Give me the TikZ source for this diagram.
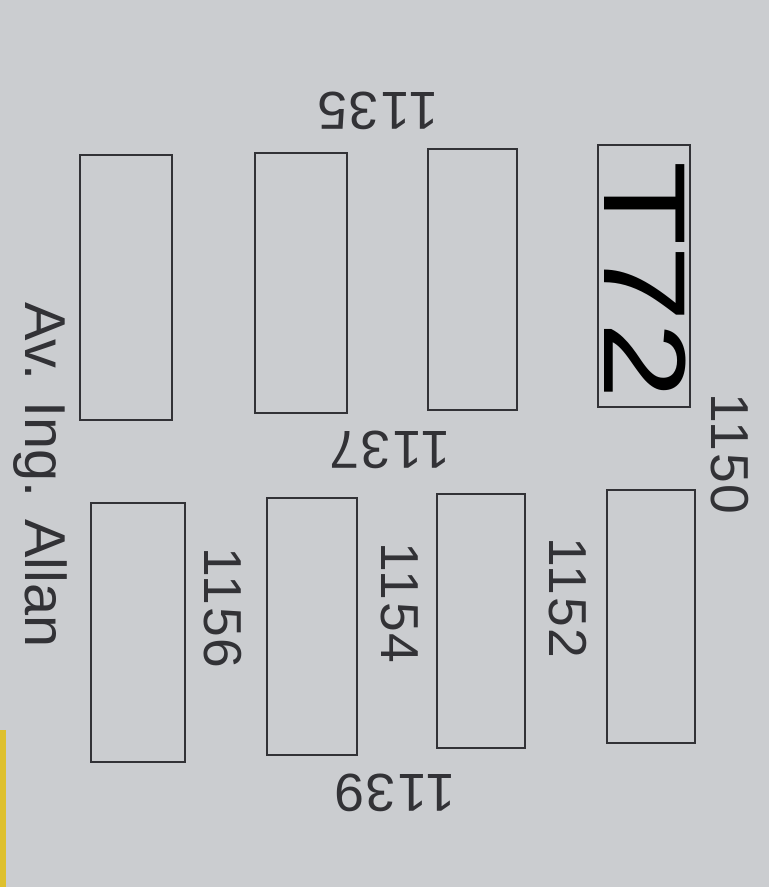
\documentclass[tikz,border=0pt]{standalone}
\usepackage{fontspec}
\setmainfont{Liberation Sans}
\usetikzlibrary{positioning}
\definecolor{paper}{RGB}{203,205,208}
\definecolor{ink}{RGB}{50,50,54}
\definecolor{tape}{RGB}{222,192,45}

\begin{document}
\begin{tikzpicture}[x=0.025cm, y=-0.025cm,
        lot/.style={draw=ink, line width=1.1pt},
        num/.style={inner sep=0pt, text=ink, font=\fontsize{38}{42}\selectfont\addfontfeature{LetterSpace=4}}]
    \fill[paper] (0,0) rectangle (769,887);
    \fill[tape] (0,730) rectangle (6,887);

    % upper block
    \draw[lot] (80,155) rectangle (172,420);
    \draw[lot] (255,153) rectangle (347,413);
    \draw[lot] (428,149) rectangle (517,410);
    \draw[lot] (598,145) rectangle (690,407);
    \node[inner sep=0pt, rotate=-90, font=\fontsize{83}{90}\selectfont] (t72) at (645,280) {\scalebox{1.18}[1]{T72}};

    % lower block
    \draw[lot] (91,503) rectangle (185,762);
    \draw[lot] (267,498) rectangle (357,755);
    \draw[lot] (437,494) rectangle (525,748);
    \draw[lot] (607,490) rectangle (695,743);

    % house numbers
    \node[num, rotate=180] (n1135) at (378,111) {1135};
    \node[num, rotate=180] (n1137) at (390,450) {1137};
    \node[num, rotate=180] (n1139) at (395,793) {1139};
    \node[num, rotate=-90] (n1150) at (730,454) {1150};
    \node[num, rotate=-90] (n1152) at (568,598) {1152};
    \node[num, rotate=-90] (n1154) at (400,603) {1154};
    \node[num, rotate=-90] (n1156) at (223,608) {1156};

    % street
    \node[num, rotate=-90, font=\fontsize{41}{44}\selectfont] (street) at (40,475) {Av. Ing. Allan};
\end{tikzpicture}
\end{document}
